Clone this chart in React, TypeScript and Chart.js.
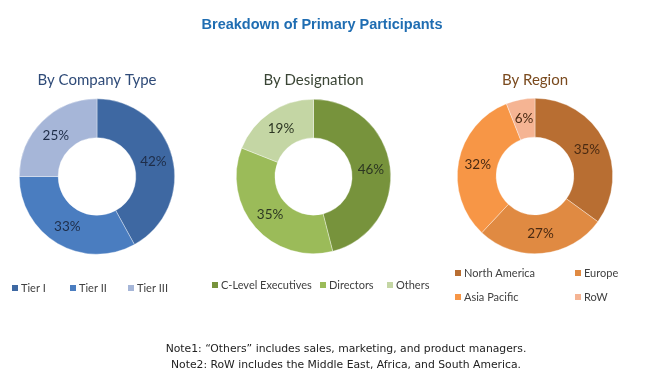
import React, { useEffect, useRef } from "react";
import { Chart, registerables } from "chart.js";

Chart.register(...registerables);

const mainTitle = "Breakdown of Primary Participants";
const noteLines = [
  "Note1: \u201cOthers\u201d includes sales, marketing, and product managers.",
  "Note2: RoW includes the Middle East, Africa, and South America.",
];

const companyTitle = "By Company Type";
const companyLabels = ["Tier I", "Tier II", "Tier III"];
const companyValues = [42, 33, 25];

const designationTitle = "By Designation";
const designationLabels = ["C-Level Executives", "Directors", "Others"];
const designationValues = [46, 35, 19];

const regionTitle = "By Region";
const regionLabels = ["North America", "Europe", "Asia Pacific", "RoW"];
const regionValues = [35, 27, 32, 6];

const W = 650;
const H = 378;
const FONT = "Lato, 'Open Sans', sans-serif";

type Panel = {
  key: string;
  title: string;
  labels: string[];
  values: number[];
  colors: string[];
  titleColor: string;
  labelColor: string;
  cx: number;
  cy: number;
  r: number;
  titleY: number;
  legend: { x: number; y: number }[];
  drawMain?: boolean;
};

const panels: Panel[] = [
  {
    key: "company",
    title: companyTitle,
    labels: companyLabels,
    values: companyValues,
    colors: ["#3E68A2", "#4A7DC0", "#A6B6D8"],
    titleColor: "#2F4B78",
    labelColor: "#1E2D48",
    cx: 97,
    cy: 176.5,
    r: 78,
    titleY: 80,
    legend: [
      { x: 12, y: 288 },
      { x: 70, y: 288 },
      { x: 128, y: 288 },
    ],
    drawMain: true,
  },
  {
    key: "designation",
    title: designationTitle,
    labels: designationLabels,
    values: designationValues,
    colors: ["#77933C", "#9BBB59", "#C4D6A4"],
    titleColor: "#3A4535",
    labelColor: "#2C3622",
    cx: 313.5,
    cy: 176.5,
    r: 77.5,
    titleY: 80,
    legend: [
      { x: 212, y: 285 },
      { x: 320, y: 285 },
      { x: 387, y: 285 },
    ],
  },
  {
    key: "region",
    title: regionTitle,
    labels: regionLabels,
    values: regionValues,
    colors: ["#B86E32", "#E08A42", "#F79646", "#F5B493"],
    titleColor: "#7A4A1E",
    labelColor: "#4A2A12",
    cx: 535,
    cy: 176,
    r: 78,
    titleY: 80,
    legend: [
      { x: 455, y: 273 },
      { x: 575, y: 273 },
      { x: 455, y: 297 },
      { x: 575, y: 297 },
    ],
  },
];

function makeOverlay(p: Panel) {
  return {
    id: "overlay_" + p.key,
    afterDraw(chart: any) {
      const ctx = chart.ctx as CanvasRenderingContext2D;
      ctx.save();
      // panel title
      ctx.fillStyle = p.titleColor;
      ctx.font = `15px ${FONT}`;
      ctx.textAlign = "center";
      ctx.textBaseline = "middle";
      ctx.fillText(p.title, p.cx, p.titleY);

      // data labels
      const meta = chart.getDatasetMeta(0);
      ctx.font = `13.5px ${FONT}`;
      ctx.fillStyle = p.labelColor;
      meta.data.forEach((arc: any, i: number) => {
        const a = arc.getProps(["x", "y", "startAngle", "endAngle", "innerRadius", "outerRadius"], true);
        const mid = (a.startAngle + a.endAngle) / 2;
        const rr = (a.innerRadius + a.outerRadius) / 2;
        ctx.fillText(p.values[i] + "%", a.x + Math.cos(mid) * rr, a.y + Math.sin(mid) * rr);
      });

      // legend
      ctx.font = `11px ${FONT}`;
      ctx.textAlign = "left";
      p.labels.forEach((lab, i) => {
        const pos = p.legend[i];
        ctx.fillStyle = p.colors[i];
        ctx.fillRect(pos.x, pos.y - 3, 6, 6);
        ctx.fillStyle = "#404040";
        ctx.fillText(lab, pos.x + 9, pos.y);
      });

      if (p.drawMain) {
        ctx.textAlign = "center";
        ctx.fillStyle = "#1F6DB2";
        ctx.font = `bold 14.5px 'Liberation Sans', Arial, sans-serif`;
        ctx.fillText(mainTitle, 322, 25);
        ctx.fillStyle = "#222222";
        ctx.font = `10.8px 'DejaVu Sans', Verdana, sans-serif`;
        ctx.fillText(noteLines[0], 346, 349);
        ctx.fillText(noteLines[1], 346, 365);
      }
      ctx.restore();
    },
  };
}

function DonutLayer({ p }: { p: Panel }) {
  const ref = useRef<HTMLCanvasElement | null>(null);
  useEffect(() => {
    if (!ref.current) return;
    const chart = new Chart(ref.current, {
      type: "doughnut",
      data: {
        labels: p.labels,
        datasets: [
          {
            data: p.values,
            backgroundColor: p.colors,
            borderColor: "rgba(255,255,255,0.6)",
            borderWidth: 0.6,
          },
        ],
      },
      options: {
        responsive: false,
        animation: false,
        cutout: "50%",
        layout: {
          padding: {
            left: p.cx - p.r,
            right: W - (p.cx + p.r),
            top: p.cy - p.r,
            bottom: H - (p.cy + p.r),
          },
        },
        plugins: {
          legend: { display: false },
          title: { display: false },
          tooltip: { enabled: false },
        },
        events: [],
      },
      plugins: [makeOverlay(p)],
    } as any);
    return () => chart.destroy();
  }, [p]);
  return (
    <canvas
      ref={ref}
      width={W}
      height={H}
      style={{ position: "absolute", left: 0, top: 0, width: W, height: H, pointerEvents: "none" }}
    />
  );
}

export default function App() {
  return (
    <div
      style={{
        position: "fixed",
        left: 0,
        top: 0,
        width: W,
        height: H,
        background: "#ffffff",
        overflow: "hidden",
      }}
    >
      {panels.map((p) => (
        <DonutLayer key={p.key} p={p} />
      ))}
    </div>
  );
}
